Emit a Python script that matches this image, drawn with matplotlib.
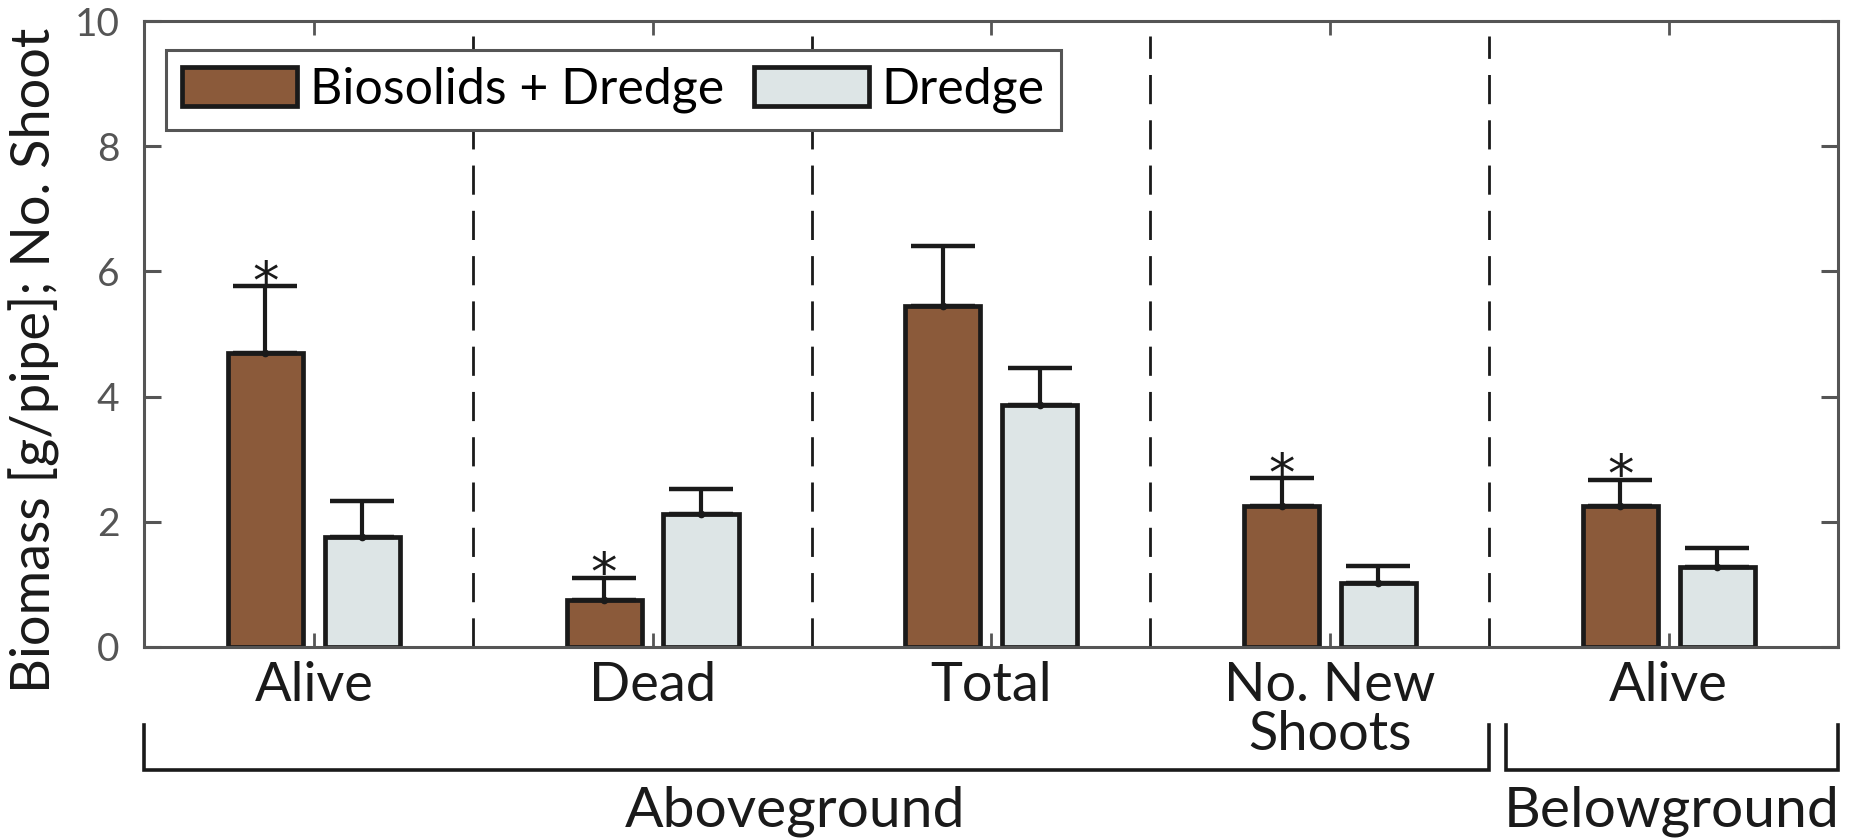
import matplotlib
matplotlib.use("Agg")
import matplotlib.pyplot as plt
import numpy as np

plt.rcParams['font.family'] = ['Lato', 'DejaVu Sans']

# biomass per pipe (and shoot counts) for the two treatments
categories = ["Alive", "Dead", "Total", "No. New\nShoots", "Alive"]
series_names = ["Biosolids + Dredge", "Dredge"]
biosolids = [4.70, 0.74, 5.44, 2.25, 2.25]
biosolids_err = [1.06, 0.36, 0.96, 0.44, 0.42]
dredge = [1.76, 2.12, 3.86, 1.02, 1.27]
dredge_err = [0.57, 0.40, 0.59, 0.27, 0.30]
significant = [True, True, False, True, True]
group_names = ["Aboveground", "Belowground"]

brown = "#8b5a3a"
light = "#dde5e6"
ink = "#1a1a1a"
grey = "#555555"

fig = plt.figure(figsize=(18.57, 8.40), dpi=100)
ax = fig.add_axes([0.0778, 0.2302, 0.9120, 0.7444])

x = np.arange(1, len(categories) + 1)
w = 0.222
off = 0.143

b1 = ax.bar(x - off, biosolids, w, color=brown, edgecolor=ink, linewidth=3.4, zorder=3)
b2 = ax.bar(x + off, dredge, w, color=light, edgecolor=ink, linewidth=3.4, zorder=3)

# upper error bars only
zeros = np.zeros(len(x))
for xs, ys, es in [(x - off, biosolids, biosolids_err), (x + off, dredge, dredge_err)]:
    ax.errorbar(xs, ys, yerr=[zeros, es], fmt='o', ms=4.5, color=ink,
                elinewidth=3.0, capsize=23, capthick=3.2, zorder=4)

# significance stars
for xi, top, err, sig in zip(x - off, biosolids, biosolids_err, significant):
    if sig:
        ax.text(xi, top + err - 0.2, "*", ha='center', va='baseline',
                fontsize=38, family='DejaVu Sans', color=ink, zorder=5)

# dashed separators between categories
ax.vlines(x[:-1] + 0.47, 0, 9.77, colors=ink, linewidth=2.0,
          linestyles=(0, (10.5, 5.8)), zorder=2)

ax.set_xlim(0.5, 5.5)
ax.set_ylim(0, 10)
ax.set_xticks(x)
ax.set_xticklabels(categories)
ax.set_yticks([0, 2, 4, 6, 8, 10])
ax.tick_params(axis='x', direction='in', length=10, width=2, color=grey,
               top=True, labelsize=39, pad=10, labelcolor=ink)
ax.tick_params(axis='y', direction='in', length=12, width=2.2, color=grey,
               right=True, labelsize=28, pad=18, labelcolor=grey)
for t in ax.get_xticklabels():
    t.set_linespacing(1.0)
for s in ax.spines.values():
    s.set_color(grey)
    s.set_linewidth(2.2)
    s.set_zorder(6)

ax.set_ylabel("Biomass [g/pipe]; No. Shoot", fontsize=39, color=ink, loc='bottom')
ax.yaxis.set_label_coords(-0.0496, -0.074)

leg = ax.legend([b1, b2], series_names, loc='upper left', bbox_to_anchor=(0.0127, 0.954),
                ncol=2, fontsize=36, frameon=True, fancybox=False, framealpha=1,
                edgecolor=grey, handlelength=2.3, handleheight=0.82,
                handletextpad=0.25, columnspacing=0.6, borderpad=0.33,
                borderaxespad=0)
leg.get_frame().set_linewidth(2.2)
leg.set_zorder(7)

# group brackets under the axis
tr = ax.get_xaxis_transform()
ax.plot([0.5, 0.5, 4.47, 4.47], [-0.125, -0.197, -0.197, -0.125], transform=tr,
        clip_on=False, color=ink, lw=2.6, solid_joinstyle='miter')
ax.plot([4.52, 4.52, 5.5, 5.5], [-0.125, -0.197, -0.197, -0.125], transform=tr,
        clip_on=False, color=ink, lw=2.6, solid_joinstyle='miter')
ax.text(2.42, -0.222, group_names[0], transform=tr, ha='center', va='top', fontsize=41, color=ink)
ax.text(5.01, -0.222, group_names[1], transform=tr, ha='center', va='top', fontsize=41, color=ink)

fig.savefig("out.png", dpi=100)
